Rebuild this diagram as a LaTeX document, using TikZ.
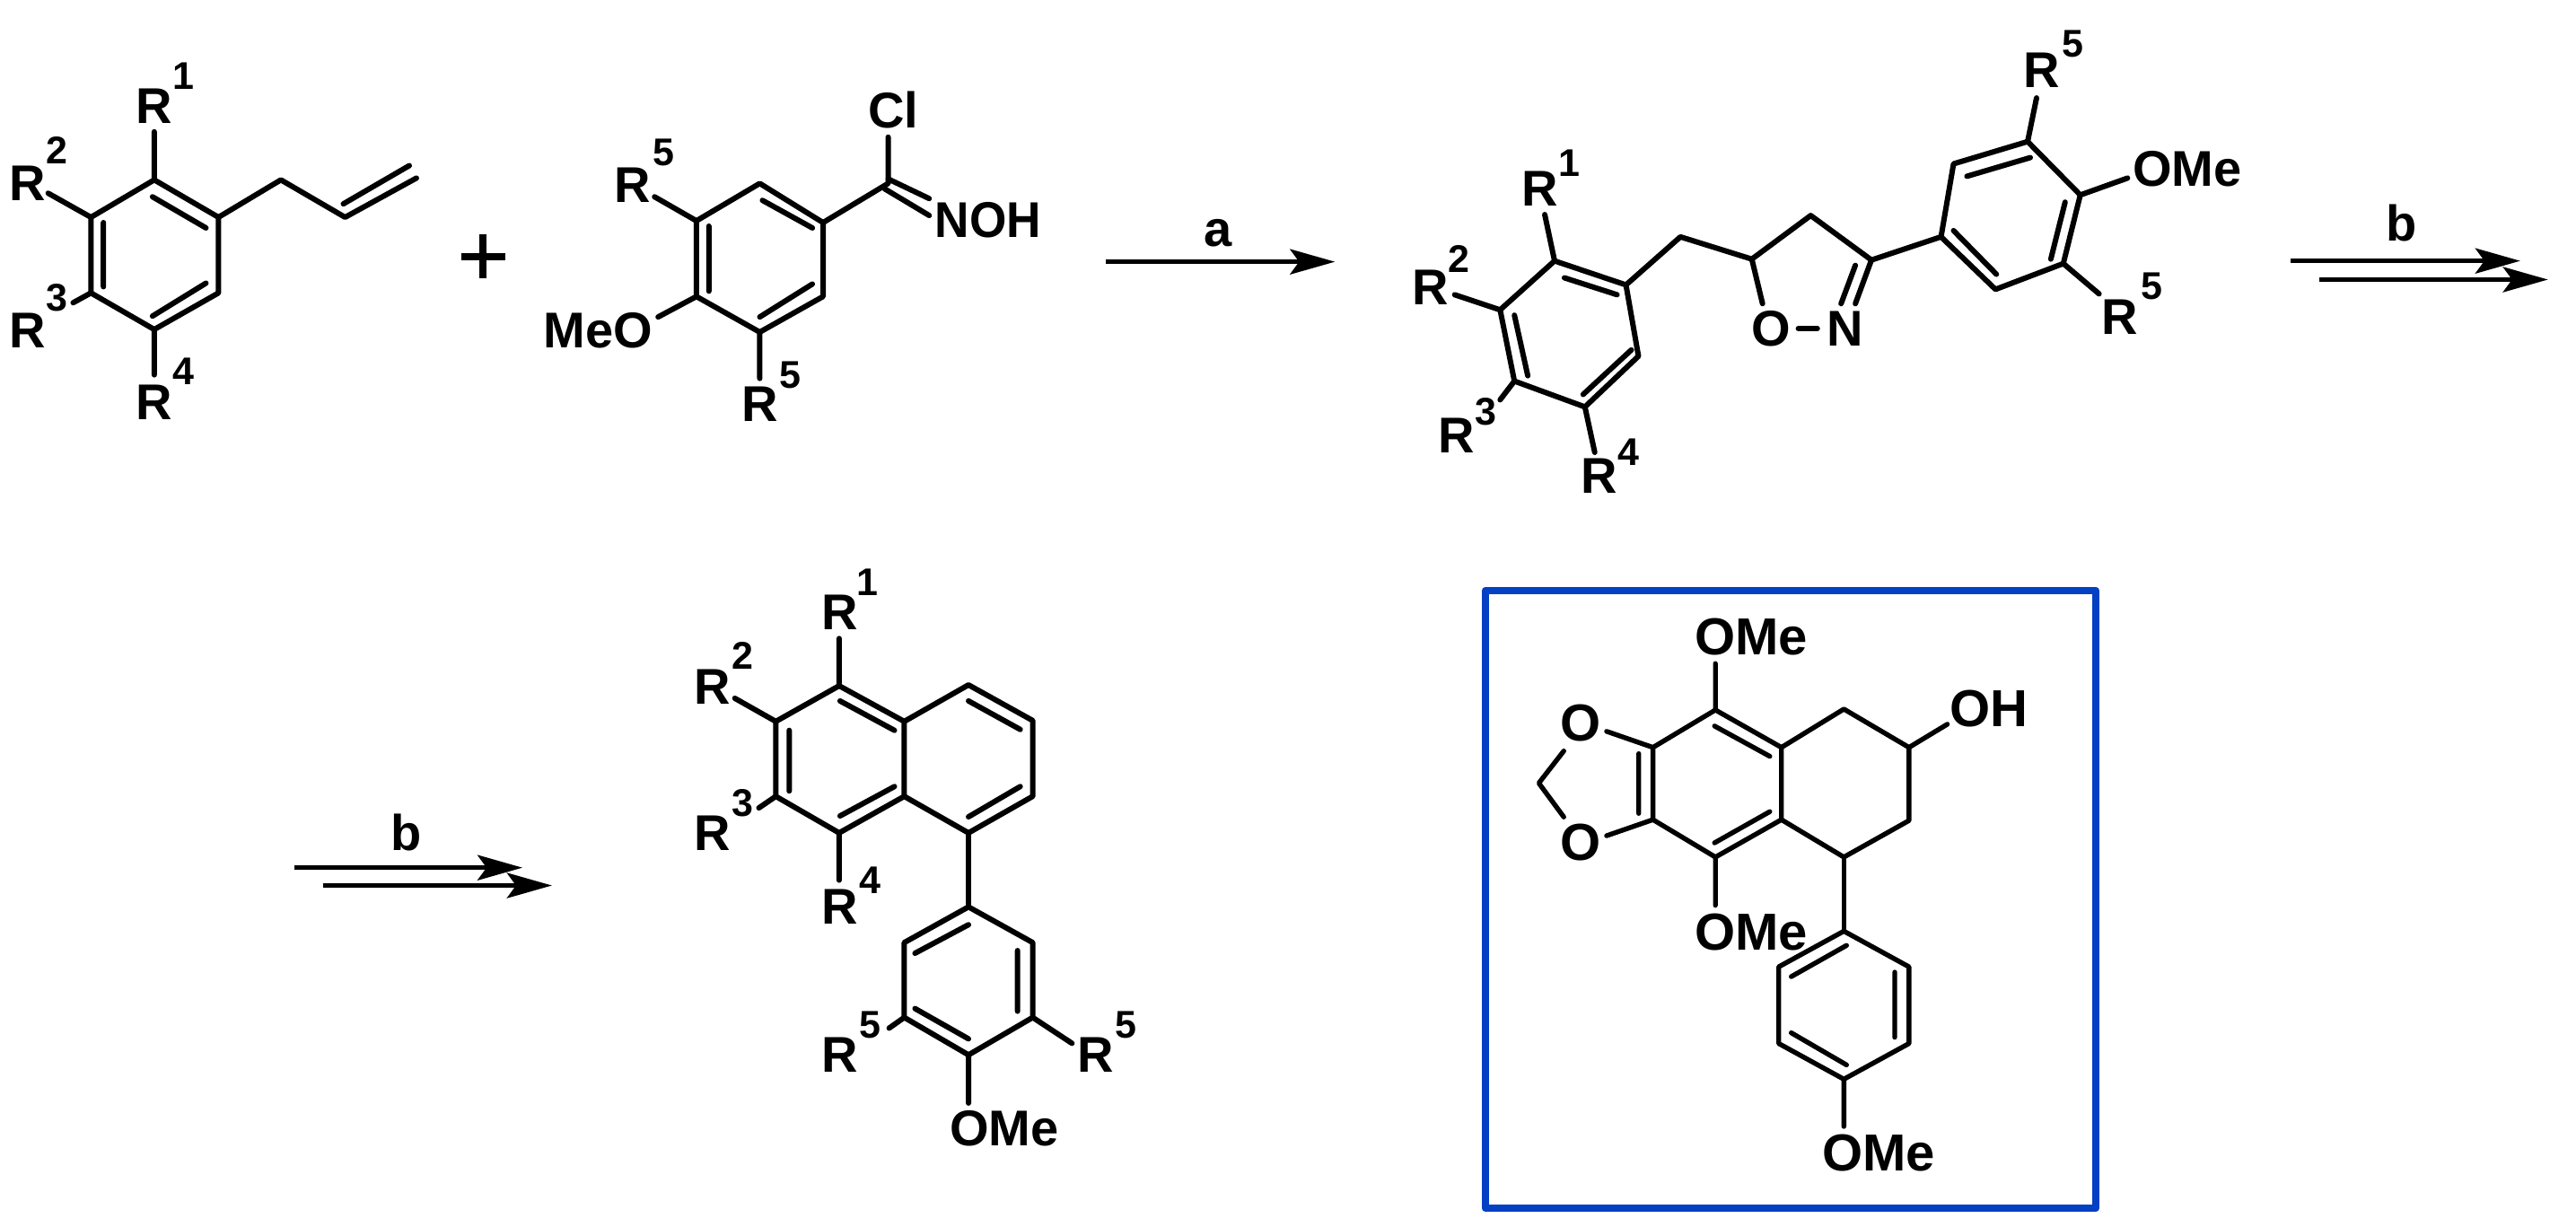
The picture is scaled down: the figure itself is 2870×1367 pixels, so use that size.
\documentclass[tikz,border=0pt]{standalone}
\usepackage{fontspec}
\setmainfont{Liberation Sans}
\usetikzlibrary{arrows.meta}
\definecolor{boxblue}{HTML}{0340C4}
\tikzset{
 bond/.style={line width=6pt,line cap=round,line join=round,black},
 thin bond/.style={line width=5.4pt,line cap=round,line join=round,black},
 atom/.style={inner sep=0pt,font=\fontsize{56}{62}\bfseries\selectfont},
 big atom/.style={inner sep=0pt,font=\fontsize{58}{64}\bfseries\selectfont},
 supr/.style={inner sep=0pt,font=\fontsize{43}{50}\bfseries\selectfont},
 rxn/.style={line width=5.4pt,-{Stealth[length=50pt,width=28pt,inset=10pt]}},
 zoneA/.style={x=.9935pt,y=-.992pt},
 zoneB/.style={x=.9944pt,y=-.992pt,shift={(6.7pt,0pt)}},
 zoneC/.style={x=.9938pt,y=-.9933pt,shift={(1.74pt,-4.15pt)}},
 zoneD/.style={x=.9938pt,y=-.9936pt,shift={(10.04pt,-4.03pt)}},
}
\begin{document}
\begin{tikzpicture}[x=1pt,y=-1pt]
\useasboundingbox[fill=white] (0,0) rectangle (2870,1367);
\begin{scope}[zoneA]
% --- molecule 1
\foreach \n/\p in {a1/{173,202},a2/{245,244},a3/{245,329},a4/{173,370},a5/{102,329},a6/{102,244},
 al1/{315,202},al2/{387,244},al3/{467,200},
 r1e/{173,148},r2e/{54,217},r3e/{82,340},r4e/{173,421}}{\coordinate (\n) at (\p);}
\draw[bond] (a1)--(a2)--(a3)--(a4)--(a5)--(a6)--cycle;
\draw[bond] (a2)--(al1)--(al2)--(al3);
\draw[bond] (385,229)--(459,186);
\draw[bond] (171,221)--(231,256) (116,250)--(116,322) (231,318)--(171,355);
\draw[bond] (r1e)--(a1) (r2e)--(a6) (r3e)--(a5) (r4e)--(a4);
\node[atom] (R1a) at (173,119) {R}; \node[supr] (s1a) at (206,85) {1};
\node[atom] (R2a) at (31,206) {R}; \node[supr] (s2a) at (64,169) {2};
\node[atom] (R3a) at (31,371) {R}; \node[supr] (s3a) at (64,334) {3};
\node[atom] (R4a) at (173,452) {R}; \node[supr] (s4a) at (206,417) {4};
% plus
\draw[line width=8pt] (517,288)--(567,288) (542,263)--(542,313);
% --- molecule 2
\foreach \n/\p in {b1/{852,206},b2/{923,250},b3/{923,333},b4/{852,373},b5/{781,333},b6/{781,248},
 bc/{996,206},cle/{996,154},re1/{734,221},me/{738,356},re2/{852,425}}{\coordinate (\n) at (\p);}
\draw[bond] (b1)--(b2)--(b3)--(b4)--(b5)--(b6)--cycle;
\draw[bond] (b2)--(bc)--(cle);
\draw[bond] (996,201)--(1042,223) (992,212)--(1042,242);
\draw[bond] (855,225)--(911,256) (795,254)--(795,327) (911,319)--(852,356);
\draw[bond] (re1)--(b6) (me)--(b5) (re2)--(b4);
\node[atom] (Cl) at (1002,123) {Cl};
\node[atom,xscale=.95] (NOH) at (1108,247) {NOH};
\node[atom] (R5b) at (709,208) {R}; \node[supr] (s5b) at (744,171) {5};
\node[atom] (MeO) at (671,371) {MeO};
\node[atom] (R5c) at (852,454) {R}; \node[supr] (s5c) at (886,421) {5};
\end{scope}
\begin{scope}[zoneB]
% arrow a
\coordinate (aS) at (1232,294); \coordinate (aE) at (1489,294);
\draw[rxn] (aS)--(aE);
\node[atom] (la) at (1358,262) {a};
% --- molecule 3
\foreach \n/\p in {c1/{1735,293},c2/{1815,320},c3/{1829,400},c4/{1769,457},c5/{1690,428},c6/{1674,348},
 ch/{1876,266},c5r/{1956,291},c4r/{2022,242},c3r/{2090,292},oe/{1968,341},ne/{2072,341},
 d1/{2168,266},d2/{2182,184},d3/{2265,159},d4/{2324,219},d5/{2305,296},d6/{2229,325},
 r5te/{2275,110},ome/{2377,200},r5le/{2345,330},
 r1e/{1724,241},r2e/{1623,331},r3e/{1674,449},r4e/{1780,508}}{\coordinate (\n) at (\p);}
\draw[bond] (c1)--(c2)--(c3)--(c4)--(c5)--(c6)--cycle;
\draw[bond] (c2)--(ch)--(c5r)--(c4r)--(c3r)--(d1);
\draw[bond] (oe)--(c5r);
\draw[bond] (c3r)--(ne);
\draw[bond] (2072,298)--(2056,341);
\draw[bond] (d1)--(d2)--(d3)--(d4)--(d5)--(d6)--cycle;
\draw[bond] (2197,198)--(2268,177) (2307,227)--(2291,291) (2230,308)--(2182,259);
\draw[bond] (1746,312)--(1805,331) (1821,393)--(1767,443) (1690,354)--(1705,422);
\draw[bond] (r5te)--(d3) (ome)--(d4) (r5le)--(d5);
\draw[bond] (r1e)--(c1) (r2e)--(c6) (r3e)--(c5) (r4e)--(c4);
\node[atom] (O) at (1978,369) {O}; \node[atom] (N) at (2061,369) {N};
\draw[bond,shorten <=8pt,shorten >=11pt] (O)--(N);
\node[atom] (R5d) at (2281,79) {R}; \node[supr] (s5d) at (2316,49) {5};
\node[atom] (OMed) at (2444,190) {OMe};
\node[atom] (R5e) at (2368,356) {R}; \node[supr] (s5e) at (2404,321) {5};
\node[atom] (R1c) at (1719,212) {R}; \node[supr] (s1c) at (1752,183) {1};
\node[atom] (R2c) at (1596,323) {R}; \node[supr] (s2c) at (1628,291) {2};
\node[atom] (R3c) at (1625,489) {R}; \node[supr] (s3c) at (1658,462) {3};
\node[atom] (R4c) at (1785,535) {R}; \node[supr] (s4c) at (1818,508) {4};
% arrows b (top)
\coordinate (b1S) at (2560,293); \coordinate (b1E) at (2817,293);
\coordinate (b2S) at (2592,314); \coordinate (b2E) at (2848,314);
\draw[rxn] (b1S)--(b1E); \draw[rxn] (b2S)--(b2E);
\node[atom] (lb) at (2684,250) {b};
\end{scope}
\begin{scope}[zoneC]
% arrows b (lower)
\coordinate (b3S) at (328,969); \coordinate (b3E) at (584,969);
\coordinate (b4S) at (360,989); \coordinate (b4E) at (617,989);
\draw[rxn] (b3S)--(b3E); \draw[rxn] (b4S)--(b4E);
\node[atom] (lb2) at (454,930) {b};
% --- molecule 4 naphthalene
\foreach \n/\p in {e1/{939,765},e2/{1012,805},e3/{1012,889},e4/{939,930},e5/{868,889},e6/{868,805},
 f1/{1084,764},f2/{1156,804},f3/{1156,889},f4/{1084,930},
 g1/{1084,1013},g2/{1156,1053},g3/{1156,1137},g4/{1084,1179},g5/{1012,1137},g6/{1012,1053},
 r1e/{939,712},r2e/{822,779},r3e/{849,902},r4e/{939,983},r5e/{995,1149},r6e/{1200,1166},ome2/{1084,1233}}{\coordinate (\n) at (\p);}
\draw[bond] (e1)--(e2)--(e3)--(e4)--(e5)--(e6)--cycle;
\draw[bond] (e2)--(f1)--(f2)--(f3)--(f4)--(e3);
\draw[bond] (f4)--(g1);
\draw[bond] (g1)--(g2)--(g3)--(g4)--(g5)--(g6)--cycle;
\draw[bond] (940,782)--(1001,815) (1001,878)--(940,911) (883,815)--(883,883) (1084,782)--(1142,814) (1142,878)--(1084,912);
\draw[bond] (1084,1033)--(1024,1065) (1139,1062)--(1139,1130) (1084,1161)--(1024,1127);
\draw[bond] (r1e)--(e1) (r2e)--(e6) (r3e)--(e5) (r4e)--(e4) (r5e)--(g5) (r6e)--(g3) (ome2)--(g4);
\node[atom] (R1e) at (940,683) {R}; \node[supr] (s1e) at (971,649) {1};
\node[atom] (R2e) at (797,766) {R}; \node[supr] (s2e) at (831,731) {2};
\node[atom] (R3e) at (797,930) {R}; \node[supr] (s3e) at (831,897) {3};
\node[atom] (R4e) at (940,1013) {R}; \node[supr] (s4e) at (974,983) {4};
\node[atom] (R5f) at (940,1179) {R}; \node[supr] (s5f) at (974,1145) {5};
\node[atom] (R5g) at (1227,1179) {R}; \node[supr] (s5g) at (1261,1145) {5};
\node[atom] (OMeg) at (1124,1262) {OMe};
\end{scope}
\begin{scope}[zoneD]
% --- boxed molecule
\draw[boxblue,line width=8pt,line join=round] (1655,658) rectangle (2339.5,1350.6);
\foreach \n/\p in {h1/{1913,792},h2/{1987,834},h3/{1987,915},h4/{1913,957},h5/{1843,915},h6/{1843,834},
 i1/{2057,791},i2/{2130,834},i3/{2130,916},i4/{2057,957},
 j1/{2057,1040},j2/{2130,1080},j3/{2130,1166},j4/{2057,1206},j5/{1984,1166},j6/{1984,1080},
 m/{1715,874},mu/{1743,838},ml/{1743,912},ou/{1791,816},ol/{1791,933},
 ot/{1913,740},olw/{1913,1011},oh/{2173,808},ob/{2057,1259}}{\coordinate (\n) at (\p);}
\draw[thin bond] (h1)--(h2)--(h3)--(h4)--(h5)--(h6)--cycle;
\draw[thin bond] (h2)--(i1)--(i2)--(i3)--(i4)--(h3);
\draw[thin bond] (i4)--(j1);
\draw[thin bond] (j1)--(j2)--(j3)--(j4)--(j5)--(j6)--cycle;
\draw[thin bond] (1912,810)--(1974,844) (1974,906)--(1912,941) (1827,841)--(1827,908);
\draw[thin bond] (2060,1056)--(1998,1091) (2114,1086)--(2114,1159) (2060,1190)--(1998,1154);
\draw[thin bond] (ot)--(h1) (olw)--(h4) (ou)--(h6) (ol)--(h5) (mu)--(m)--(ml) (oh)--(i2) (ob)--(j4);
\node[big atom] (OMe1) at (1953,710) {OMe};
\node[big atom] (OMe2) at (1953,1041) {OMe};
\node[big atom] (OMe3) at (2096,1289) {OMe};
\node[big atom] (Ou) at (1762,807) {O};
\node[big atom] (Ol) at (1762,941) {O};
\node[big atom] (OH) at (2220,791) {OH};
\end{scope}
\end{tikzpicture}
\end{document}
